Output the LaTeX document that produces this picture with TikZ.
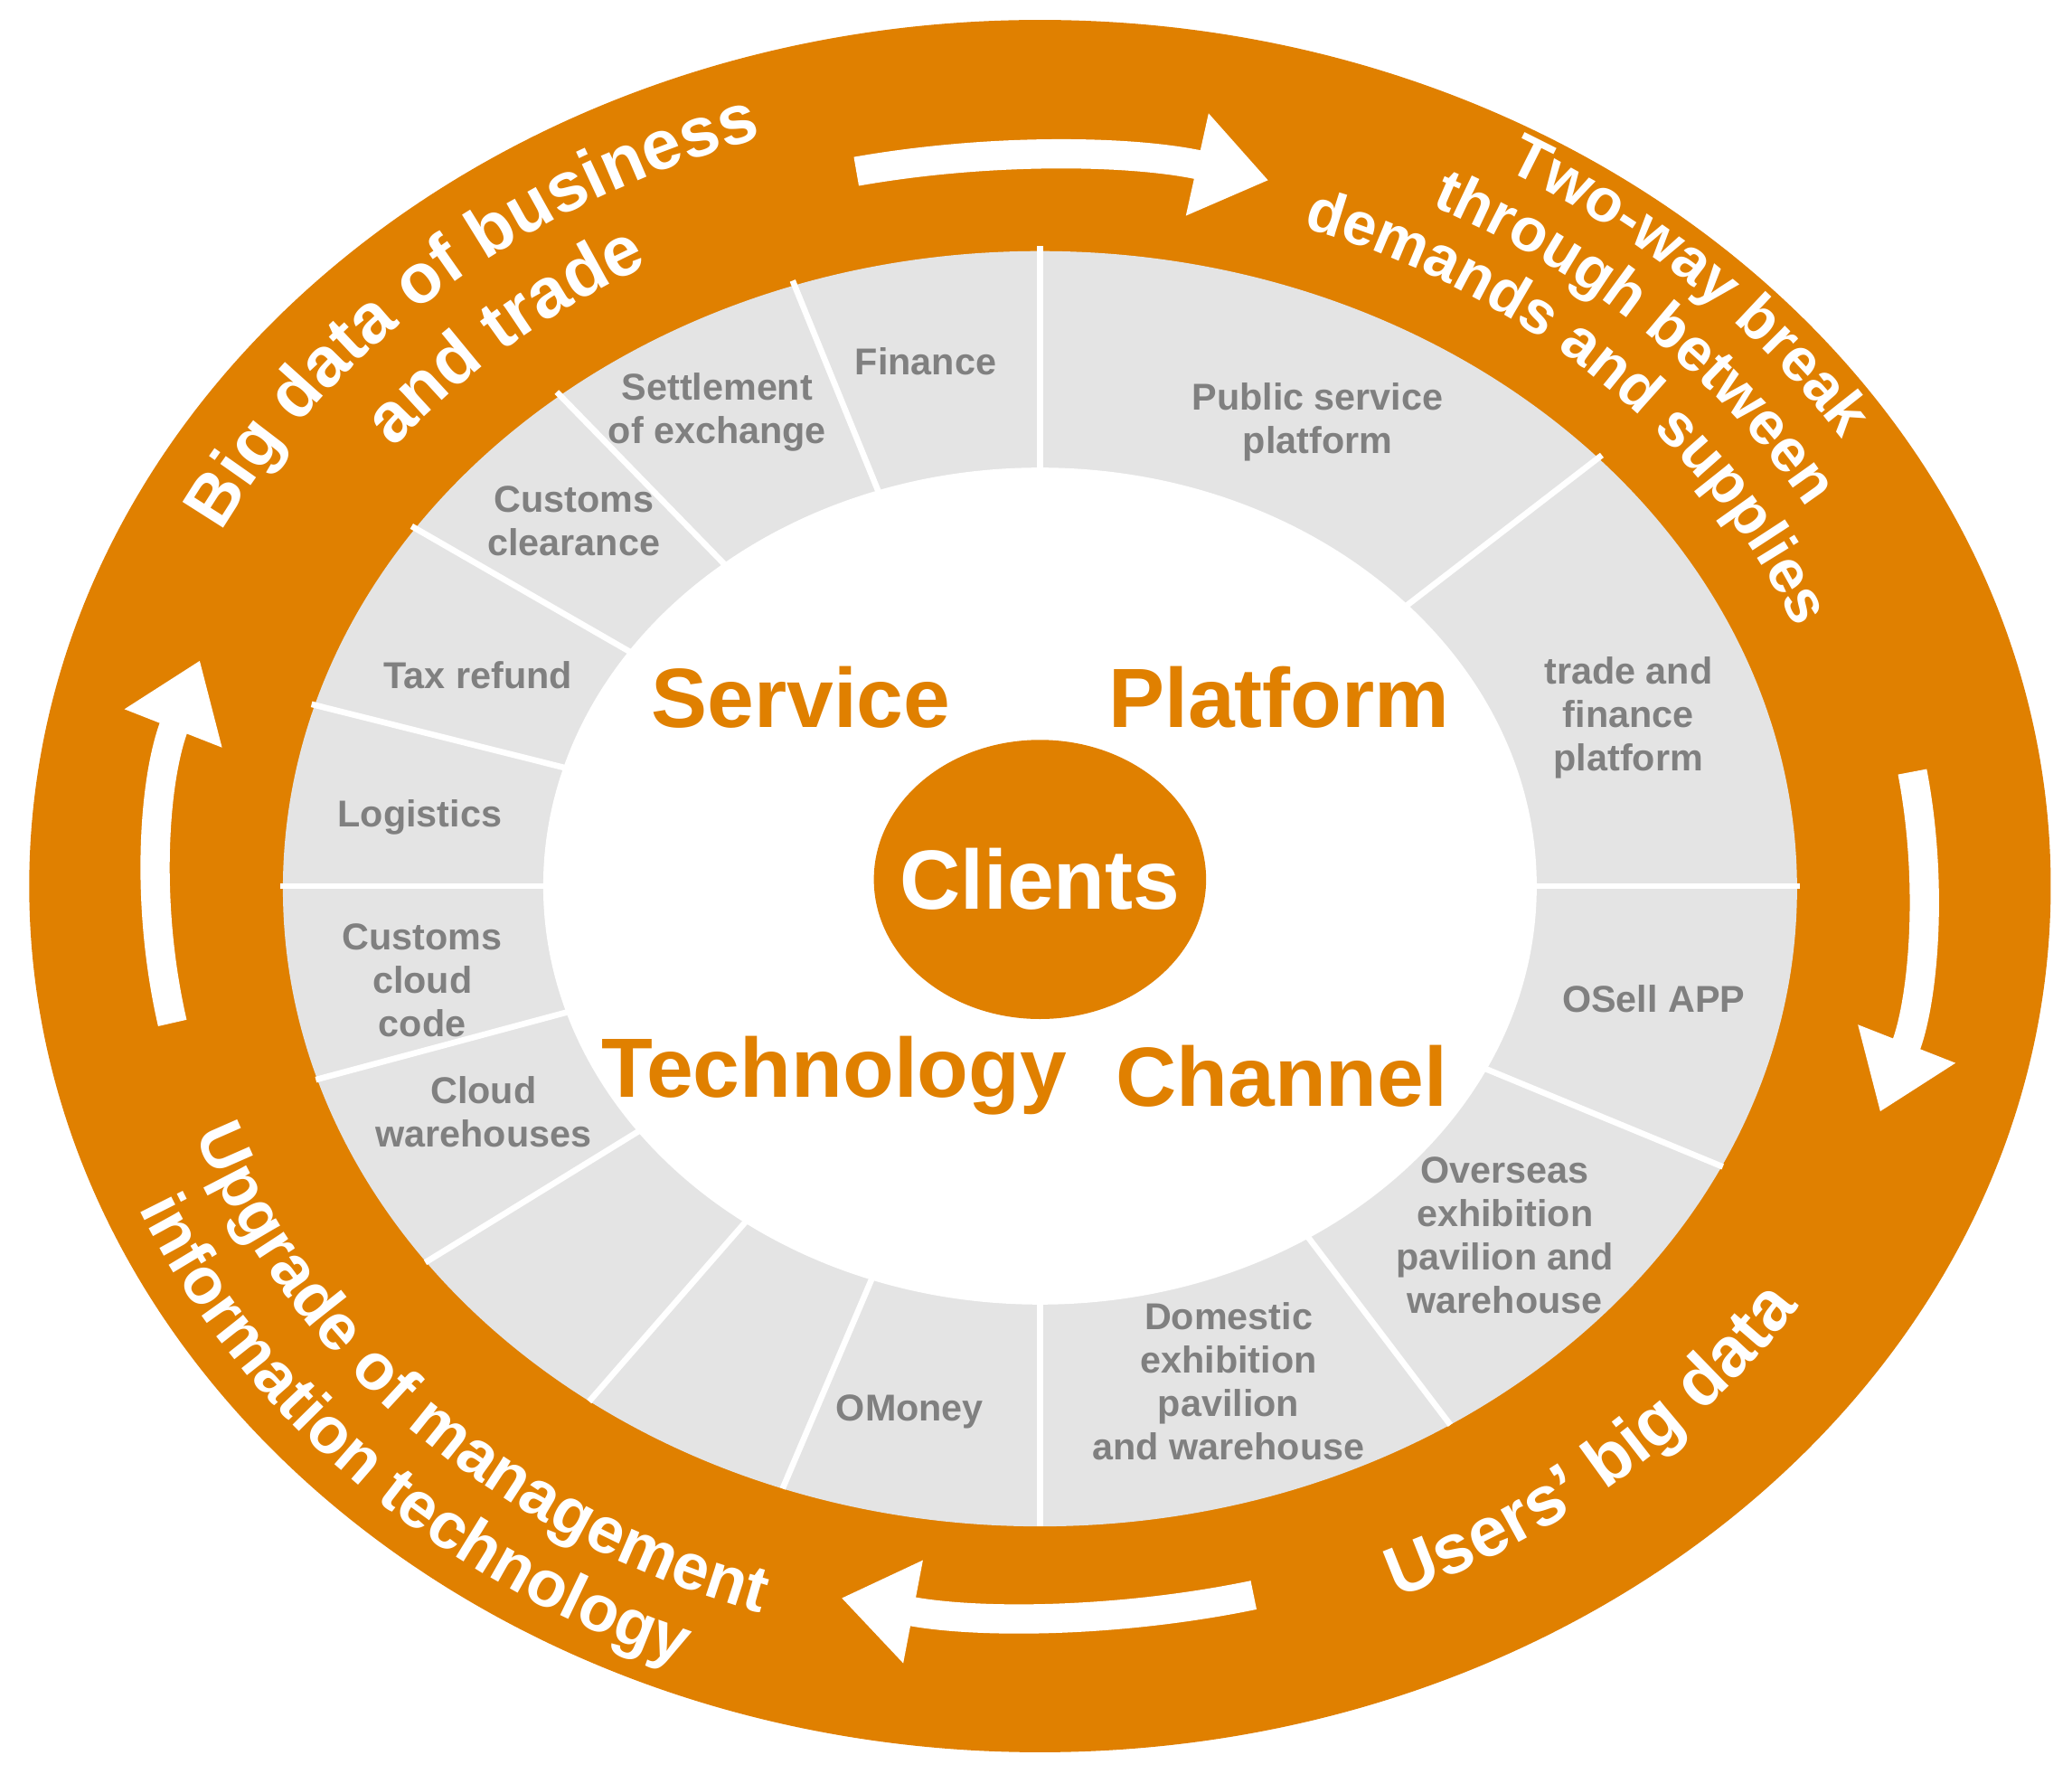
\documentclass[tikz,border=0pt]{standalone}
\usepackage{fontspec}
\setmainfont{Liberation Sans}
\usetikzlibrary{decorations.text,arrows.meta,shapes.geometric}
\definecolor{org}{HTML}{E08000}
\definecolor{sect}{HTML}{E4E4E4}
\definecolor{lab}{HTML}{808080}
\begin{document}
\begin{tikzpicture}[x=0.01cm,y=0.01cm,
  lbl/.style={text=lab,font=\bfseries\fontsize{8}{9.3}\selectfont,align=center,inner sep=0},
  big/.style={text=org,font=\bfseries\fontsize{18}{20}\selectfont,inner sep=0},
  warr/.style={white,line width=0.22cm,-{Triangle[length=0.55cm,width=0.75cm]}},
  ringtext/.style={decorate,decoration={text along path,text align=center,text color=white,text={#1}}}]
\useasboundingbox[fill=white] (-783,-668) rectangle (777,667);
% rings
\fill[org] (0,0) ellipse[x radius=761,y radius=652];
\fill[sect] (0,-2) ellipse[x radius=570,y radius=480];
\fill[white] (0,0) ellipse[x radius=374,y radius=315];
\foreach \t in {90,109,129.5,145.8,163.5,180,197.6,216,233.6,250.2,270,302.7,334,0,42.3}
  \draw[white,line width=0.045cm] ({370*cos(\t)},{311*sin(\t)}) -- ({572*cos(\t)},{482*sin(\t)});
\node[fill=org,ellipse,inner sep=0,minimum width=2.5cm,minimum height=2.1cm] (cl) at (0,5) {};
\node[text=white,font=\bfseries\fontsize{18}{20}\selectfont] (clt) at (0,5) {Clients};
% quadrant words
\node[big] (svc) at (-180,142) {Service};
\node[big] (plt) at (180,142) {Platform};
\node[big] (tec) at (-155,-143) {Technology};
\node[big] (chn) at (182,-143) {Channel};
% sector labels
\node[lbl] (l1) at (-86,395) {Finance};
\node[lbl] (l2) at (-243,357) {Settlement\\of exchange};
\node[lbl] (l3) at (-351,275) {Customs\\clearance};
\node[lbl] (l4) at (-423,159) {Tax refund};
\node[lbl] (l5) at (-467,52) {Logistics};
\node[lbl] (l6) at (-465,-71) {Customs\\cloud\\code};
\node[lbl] (l7) at (-419,-170) {Cloud\\warehouses};
\node[lbl] (l8) at (-98,-396) {OMoney};
\node[lbl] (l9) at (142,-373) {Domestic\\exhibition\\pavilion\\and warehouse};
\node[lbl] (l10) at (350,-263) {Overseas\\exhibition\\pavilion and\\warehouse};
\node[lbl] (l11) at (462,-85) {OSell APP};
\node[lbl] (l12) at (443,127) {trade and\\finance\\platform};
\node[lbl] (l13) at (209,349) {Public service\\platform};
% ring texts
\path[ringtext={|\bfseries\fontsize{15}{15}\selectfont|Big data of business}] ({690*cos(177)},{591*sin(177)}) arc[start angle=177,end angle=87,x radius=690,y radius=591];
\path[ringtext={|\bfseries\fontsize{15}{15}\selectfont|and trade}] ({620*cos(177)},{531*sin(177)}) arc[start angle=177,end angle=87,x radius=620,y radius=531];
\path[ringtext={|\bfseries\fontsize{13}{13}\selectfont|Two-way break}] ({720*cos(90)},{617*sin(90)}) arc[start angle=90,end angle=0,x radius=720,y radius=617];
\path[ringtext={|\bfseries\fontsize{13}{13}\selectfont|through between}] ({666*cos(90)},{571*sin(90)}) arc[start angle=90,end angle=0,x radius=666,y radius=571];
\path[ringtext={|\bfseries\fontsize{13}{13}\selectfont|demands and supplies}] ({612*cos(90)},{524*sin(90)}) arc[start angle=90,end angle=0,x radius=612,y radius=524];
\path[ringtext={|\bfseries\fontsize{15}{15}\selectfont|Users’ big data}] ({680*cos(-93)},{583*sin(-93)}) arc[start angle=-93,end angle=-3,x radius=680,y radius=583];
\path[ringtext={|\bfseries\fontsize{14}{14}\selectfont|Upgrade of management}] ({672*cos(179)},{576*sin(179)}) arc[start angle=179,end angle=269,x radius=672,y radius=576];
\path[ringtext={|\bfseries\fontsize{14}{14}\selectfont|information technology}] ({735*cos(179)},{630*sin(179)}) arc[start angle=179,end angle=269,x radius=735,y radius=630];
% arrows
\coordinate (a1) at ({665*cos(102)},{550*sin(102)});
\coordinate (a2) at ({665*cos(9)},{550*sin(9)});
\coordinate (a3) at ({665*cos(-76)},{550*sin(-76)});
\coordinate (a4) at ({665*cos(190.8)},{550*sin(190.8)});
\draw[warr] (a1) arc[start angle=102,end angle=75,x radius=665,y radius=550];
\draw[warr] (a2) arc[start angle=9,end angle=-18,x radius=665,y radius=550];
\draw[warr] (a3) arc[start angle=-76,end angle=-103,x radius=665,y radius=550];
\draw[warr] (a4) arc[start angle=190.8,end angle=162,x radius=665,y radius=550];
\end{tikzpicture}
\end{document}
